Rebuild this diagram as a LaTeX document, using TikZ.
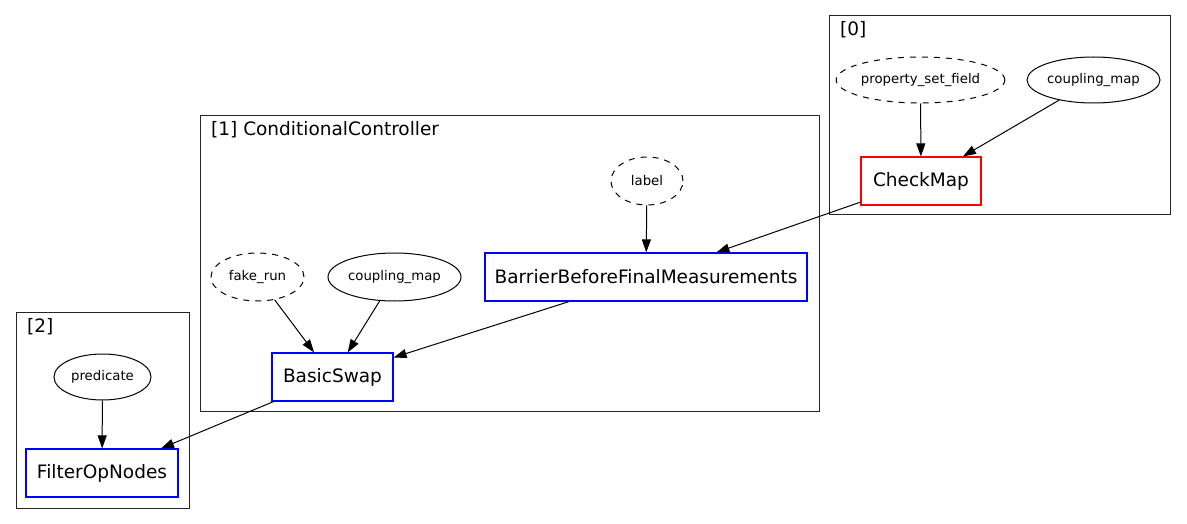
\documentclass[tikz,border=0pt]{standalone}
\usepackage{fontspec}
\setmainfont{DejaVu Sans}
\usetikzlibrary{arrows.meta,shapes.geometric}
\begin{document}
\begin{tikzpicture}[x=1pt,y=-1pt,
  every node/.style={inner sep=0pt},
  cluster/.style={draw=black!85,line width=1pt},
  clabel/.style={anchor=base west,font=\fontsize{18.5}{20}\selectfont},
  passbox/.style={rectangle,line width=1.2pt,minimum height=48pt,font=\fontsize{18.5}{20}\selectfont},
  bluebox/.style={passbox,draw=blue},
  redbox/.style={passbox,draw=red},
  field/.style={draw=black,line width=1pt,ellipse,font=\fontsize{13.3}{15}\selectfont},
  dfield/.style={field,dash pattern=on 6pt off 6pt},
  conn/.style={draw=black,line width=1pt,-{Triangle[length=13pt,width=9pt]}}
]
\useasboundingbox (0,0) rectangle (1187,524);
\fill[white] (0,0) rectangle (1187,524);
% clusters
\draw[cluster] (829,16) rectangle (1170,215);
\node[clabel] (l0) at (840,36) {[0]};
\draw[cluster] (200,116) rectangle (819,411);
\node[clabel] (l1) at (211,136) {[1] ConditionalController};
\draw[cluster] (16,312) rectangle (189,508);
\node[clabel] (l2) at (27,332) {[2]};
% nodes
\node[dfield,minimum width=165pt,minimum height=46pt] (psf) at (920.5,80) {property\_set\_field};
\node[field,minimum width=133pt,minimum height=46pt] (cm0) at (1093.5,80) {coupling\_map};
\node[redbox,minimum width=120pt] (checkmap) at (921,181) {CheckMap};
\node[dfield,minimum width=72pt,minimum height=48pt] (label) at (647,181) {label};
\node[bluebox,minimum width=322pt] (bbfm) at (646,277) {BarrierBeforeFinalMeasurements};
\node[dfield,minimum width=93pt,minimum height=48pt] (fake) at (257.5,277) {fake\_run};
\node[field,minimum width=133pt,minimum height=48pt] (cm1) at (394.5,277) {coupling\_map};
\node[bluebox,minimum width=121pt] (swap) at (332.5,377) {BasicSwap};
\node[field,minimum width=97pt,minimum height=46pt] (pred) at (102.5,377) {predicate};
\node[bluebox,minimum width=152pt] (filter) at (102,473) {FilterOpNodes};
% edges
\draw[conn] (psf) -- (checkmap);
\draw[conn] (cm0) -- (checkmap);
\draw[conn] (label) -- (bbfm);
\draw[conn] (checkmap) -- (bbfm);
\draw[conn] (fake) -- (swap);
\draw[conn] (cm1) -- (swap);
\draw[conn] (bbfm) -- (swap);
\draw[conn] (pred) -- (filter);
\draw[conn] (swap) -- (filter);
\end{tikzpicture}
\end{document}
